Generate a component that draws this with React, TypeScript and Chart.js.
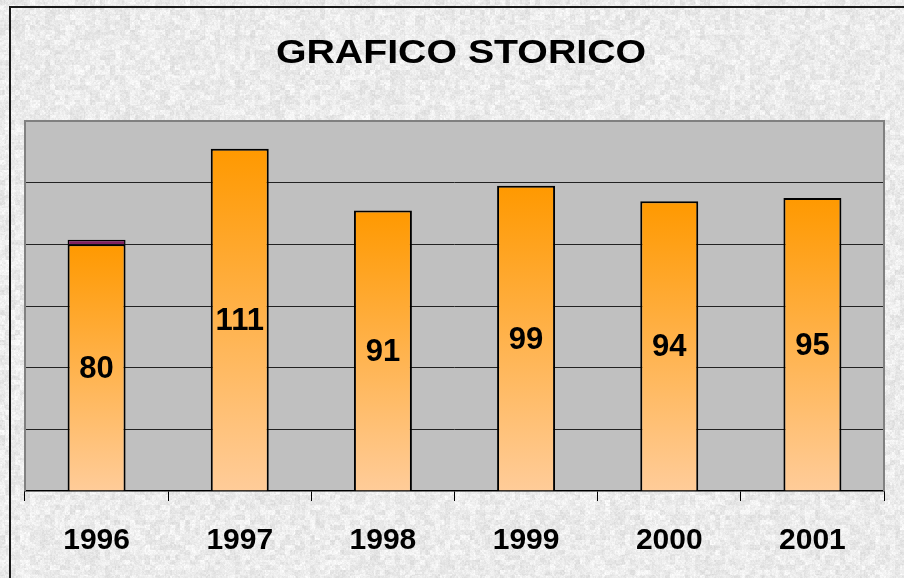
import React, { useEffect, useRef } from 'react';
import { Chart, registerables } from 'chart.js';

Chart.register(...registerables);

const chartTitle = 'GRAFICO STORICO';
const years = ['1996', '1997', '1998', '1999', '2000', '2001'];
const values = [80, 111, 91, 99, 94, 95];
const extraSegment = [1.5, null, null, null, null, null];
const yMin = 0;
const yMax = 120;
const yStep = 20;

const W = 904;
const H = 578;

let textureCache: HTMLCanvasElement | null = null;
function hash(x: number, y: number): number {
  let h = Math.imul(x, 374761393) + Math.imul(y, 668265263);
  h = Math.imul(h ^ (h >>> 13), 1274126177);
  h = h ^ (h >>> 16);
  return (h >>> 0) / 4294967295;
}
function getTexture(): HTMLCanvasElement {
  if (textureCache) return textureCache;
  const c = document.createElement('canvas');
  c.width = W;
  c.height = H;
  const cx = c.getContext('2d')!;
  const img = cx.createImageData(W, H);
  for (let y = 0; y < H; y++) {
    for (let x = 0; x < W; x++) {
      const n1 = hash(Math.floor(x / 5), Math.floor(y / 5));
      const n2 = hash(x + 1000, y + 2000);
      const n3 = hash(Math.floor(x / 2) + 77, Math.floor(y / 2) + 99);
      let v = 235 + (n1 - 0.5) * 18 + (n3 - 0.5) * 14 + (n2 - 0.5) * 10;
      v = Math.max(190, Math.min(255, v));
      const i = (y * W + x) * 4;
      img.data[i] = v;
      img.data[i + 1] = v;
      img.data[i + 2] = v;
      img.data[i + 3] = 255;
    }
  }
  cx.putImageData(img, 0, 0);
  textureCache = c;
  return c;
}

const decorPlugin = {
  id: 'decor',
  beforeDraw(chart: any) {
    const ctx = chart.ctx;
    const a = chart.chartArea;
    ctx.save();
    ctx.drawImage(getTexture(), 0, 0);
    // outer frame
    ctx.strokeStyle = '#1a1a1a';
    ctx.lineWidth = 2;
    ctx.beginPath();
    ctx.moveTo(10, H + 2);
    ctx.lineTo(10, 7);
    ctx.lineTo(W + 2, 7);
    ctx.stroke();
    // plot area background
    ctx.fillStyle = '#C0C0C0';
    ctx.fillRect(a.left, a.top, a.right - a.left, a.bottom - a.top);
    // title
    ctx.fillStyle = '#000';
    ctx.font = 'bold 33px Arial, "Liberation Sans", sans-serif';
    ctx.textAlign = 'center';
    ctx.textBaseline = 'middle';
    ctx.translate(461, 54);
    ctx.scale(1.19, 1);
    ctx.fillText(chartTitle, 0, 0);
    ctx.restore();
  },
  beforeDatasetsDraw(chart: any) {
    const ctx = chart.ctx;
    const a = chart.chartArea;
    ctx.save();
    ctx.strokeStyle = '#808080';
    ctx.lineWidth = 2;
    ctx.beginPath();
    ctx.moveTo(a.left, a.bottom);
    ctx.lineTo(a.left, a.top);
    ctx.lineTo(a.right, a.top);
    ctx.lineTo(a.right, a.bottom);
    ctx.stroke();
    ctx.restore();
  },
  afterDatasetsDraw(chart: any) {
    const ctx = chart.ctx;
    const meta = chart.getDatasetMeta(0);
    ctx.save();
    ctx.fillStyle = '#000';
    ctx.font = 'bold 31px Arial, "Liberation Sans", sans-serif';
    ctx.textAlign = 'center';
    ctx.textBaseline = 'middle';
    meta.data.forEach((bar: any, i: number) => {
      const p = bar.getProps(['x', 'y', 'base'], true);
      ctx.fillText(String(values[i]), p.x, (p.y + p.base) / 2 + 2);
    });
    ctx.restore();
  },
};

export default function App() {
  const ref = useRef<HTMLCanvasElement>(null);
  useEffect(() => {
    if (!ref.current) return;
    const chart = new Chart(ref.current, {
      type: 'bar',
      data: {
        labels: years,
        datasets: [
          {
            label: 'Valori',
            data: values,
            backgroundColor: (c: any) => {
              const ch = c.chart;
              if (!ch.chartArea || c.type !== 'data' || !ch.scales.y) return '#FF9900';
              const ys = ch.scales.y;
              const top = ys.getPixelForValue(values[c.dataIndex]);
              const bottom = ys.getPixelForValue(0);
              if (!isFinite(top) || !isFinite(bottom) || top === bottom) return '#FF9900';
              const g = ch.ctx.createLinearGradient(0, top, 0, bottom);
              g.addColorStop(0, '#FF9900');
              g.addColorStop(1, '#FFCC99');
              return g;
            },
            borderColor: '#000',
            borderWidth: 2,
            barPercentage: 0.405,
            categoryPercentage: 1,
          },
          {
            label: 'Extra',
            data: extraSegment as any,
            backgroundColor: '#802060',
            borderColor: '#000',
            borderWidth: 1.5,
            barPercentage: 0.405,
            categoryPercentage: 1,
          },
        ],
      },
      options: {
        responsive: false,
        animation: false,
        events: [],
        layout: { padding: { top: 121, left: 25, right: 20, bottom: 0 } },
        plugins: {
          legend: { display: false },
          tooltip: { enabled: false },
          title: { display: false },
        },
        scales: {
          x: {
            stacked: true,
            offset: true,
            afterFit: (scale: any) => {
              scale.height = 87;
            },
            grid: {
              offset: true,
              drawOnChartArea: false,
              drawTicks: true,
              tickLength: 10,
              color: '#000',
              lineWidth: 1,
            },
            border: { display: true, color: '#000', width: 1.5 },
            ticks: {
              color: '#000',
              font: { family: 'Arial, "Liberation Sans", sans-serif', size: 30, weight: 'bold' },
              padding: 22,
              maxRotation: 0,
              autoSkip: false,
            },
          },
          y: {
            stacked: true,
            min: yMin,
            max: yMax,
            ticks: { display: false, stepSize: yStep },
            border: { display: false },
            grid: {
              drawTicks: false,
              color: (c: any) => (c.tick && c.tick.value === yMax ? '#808080' : c.tick && c.tick.value === yMin ? 'rgba(0,0,0,0)' : '#222'),
              lineWidth: (c: any) => (c.tick && c.tick.value === yMax ? 2 : 1),
            },
          },
        },
      },
      plugins: [decorPlugin],
    } as any);
    return () => chart.destroy();
  }, []);
  return (
    <div style={{ position: 'absolute', left: 0, top: 0, width: W, height: H }}>
      <canvas ref={ref} width={W} height={H} style={{ display: 'block' }} />
    </div>
  );
}
